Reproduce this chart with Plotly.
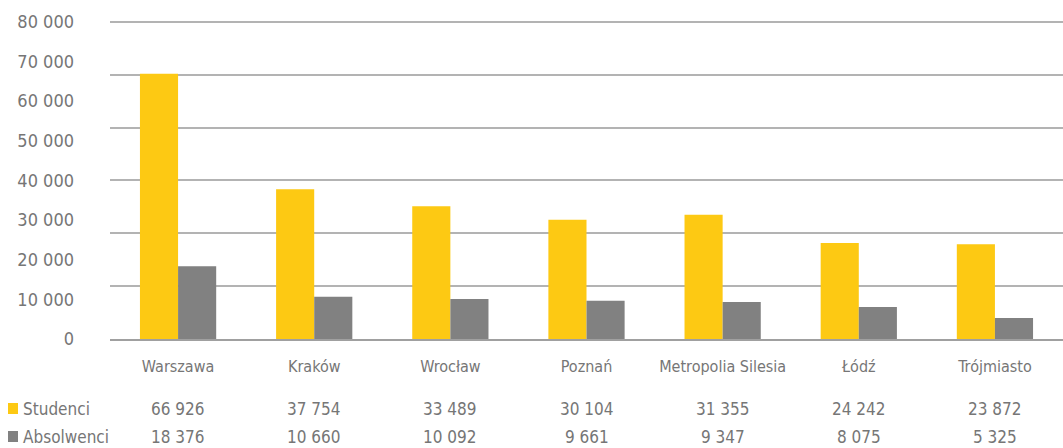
import plotly.graph_objects as go

categories = ["Warszawa", "Kraków", "Wrocław", "Poznań", "Metropolia Silesia", "Łódź", "Trójmiasto"]
studenci = [66926, 37754, 33489, 30104, 31355, 24242, 23872]
absolwenci = [18376, 10660, 10092, 9661, 9347, 8075, 5325]
series_names = ["Studenci", "Absolwenci"]
series_colors = ["#FDC913", "#818181"]
y_ticks = [0, 10000, 20000, 30000, 40000, 50000, 60000, 70000, 80000]
y_tick_labels = ["0", "10 000", "20 000", "30 000", "40 000", "50 000", "60 000", "70 000", "80 000"]
y_max = 80000

FONT = "Liberation Sans Narrow, DejaVu Sans Condensed, sans-serif"
TXT = "#767676"

def fmt(v):
    return f"{v:,}".replace(",", " ")

fig = go.Figure()
for name, vals, col in zip(series_names, [studenci, absolwenci], series_colors):
    fig.add_trace(go.Bar(x=categories, y=vals, name=name, marker=dict(color=col, line=dict(width=0)),
                         showlegend=False, hoverinfo="x+y"))

# invisible trace on overlay axis to carry gridlines
fig.add_trace(go.Scatter(x=categories, y=[None]*len(categories), yaxis="y2", showlegend=False, hoverinfo="skip"))

annotations = []
row_shift = [-70, -98]
for r, (name, vals, col) in enumerate(zip(series_names, [studenci, absolwenci], series_colors)):
    for c, v in zip(categories, vals):
        annotations.append(dict(x=c, xref="x", y=0, yref="paper", yshift=row_shift[r], text=fmt(v),
                                showarrow=False, xanchor="center", yanchor="middle",
                                font=dict(family=FONT, size=17, color=TXT)))
    annotations.append(dict(x=0, xref="paper", xshift=-89, y=0, yref="paper", yshift=row_shift[r], text=name,
                            showarrow=False, xanchor="left", yanchor="middle",
                            font=dict(family=FONT, size=17, color=TXT)))

shapes = []
for r, col in enumerate(series_colors):
    shapes.append(dict(type="rect", xref="paper", yref="paper", xsizemode="pixel", ysizemode="pixel",
                       xanchor=0, yanchor=0, x0=-102, x1=-92, y0=row_shift[r] - 5, y1=row_shift[r] + 6,
                       fillcolor=col, line=dict(width=0)))

top = y_max * 1.012
fig.update_layout(
    width=1063, height=448,
    margin=dict(l=110, r=0, t=18, b=109),
    paper_bgcolor="white", plot_bgcolor="white",
    barmode="group", bargap=0.44, bargroupgap=0,
    font=dict(family=FONT, color=TXT),
    xaxis=dict(showgrid=False, showline=True, linecolor="#a0a0a0", linewidth=2,
               tickfont=dict(family=FONT, size=16, color=TXT), ticks="", ticklabelstandoff=12),
    yaxis=dict(range=[0, top], tickvals=y_ticks, ticktext=y_tick_labels, showgrid=False,
               zeroline=False, showline=False, ticks="",
               tickfont=dict(family=FONT, size=18, color=TXT), ticklabelstandoff=35),
    yaxis2=dict(range=[0, top], tickvals=[i * y_max / 6 for i in range(7)], overlaying="y",
                showgrid=True, gridcolor="#b3b3b3", gridwidth=1.5, showticklabels=False,
                zeroline=False, ticks="", layer="below traces"),
    annotations=annotations,
    shapes=shapes,
)

fig.write_html("out.html", config={"displayModeBar": False},
               post_script="document.body.style.margin='0';")
